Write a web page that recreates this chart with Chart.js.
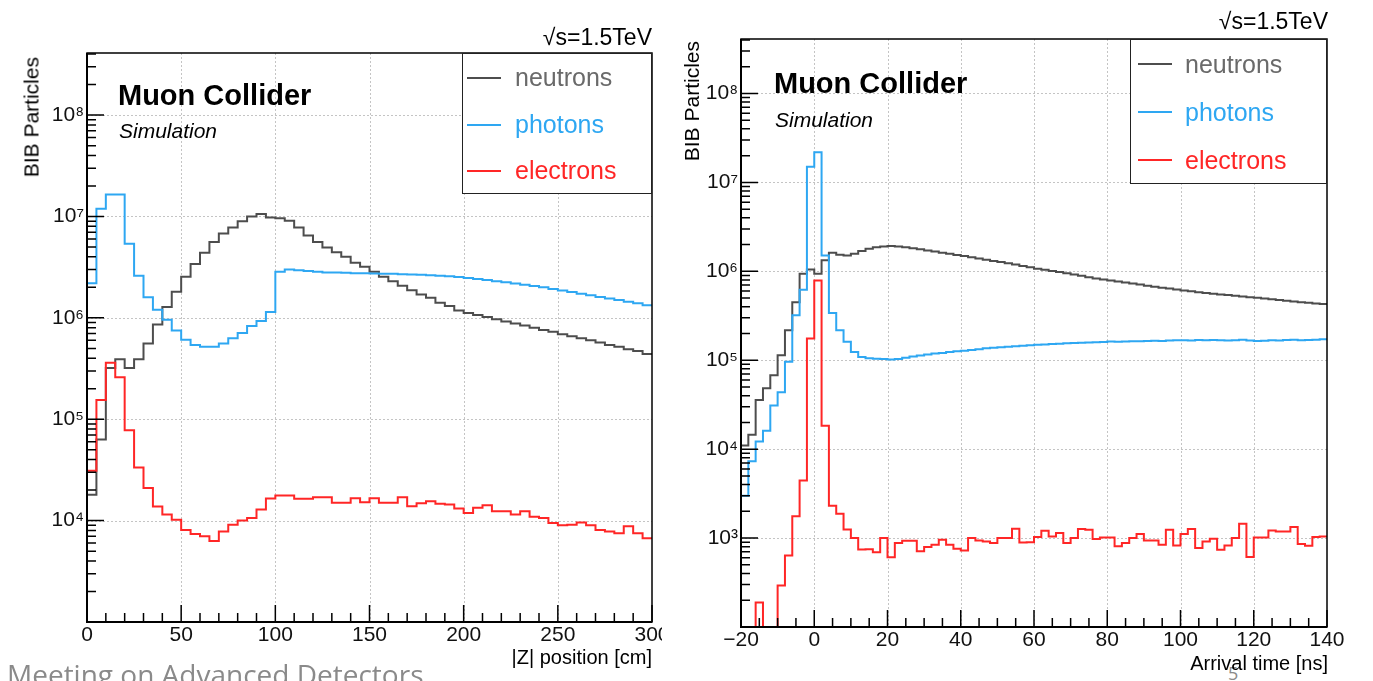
<!DOCTYPE html>
<html>
<head>
<meta charset="utf-8">
<title>BIB particles - Muon Collider</title>
<script src="https://cdn.jsdelivr.net/npm/chart.js@4.4.1/dist/chart.umd.min.js"></script>
<style>
  html, body { margin: 0; padding: 0; background: #fff; }
  #page { position: relative; width: 1373px; height: 681px; overflow: hidden; background: #fff;
          font-family: "Liberation Sans", Arial, Helvetica, sans-serif; }
  canvas { position: absolute; top: 0; }
  .txt { position: absolute; line-height: 1; white-space: nowrap; color: #000; }
  .rot { transform-origin: 0 0; transform: rotate(-90deg) translate(-100%, -50%); }
  .legend { position: absolute; background: #fff; border: 1.5px solid #222; box-sizing: border-box; }
  .legend .sample { position: absolute; height: 2px; }
  .legend .name { position: absolute; font-size: 25px; line-height: 1; white-space: nowrap; }
  .footer { font-family: "Open Sans", "Noto Sans", sans-serif; color: #8a8a8a; }
</style>
</head>
<body>
<div id="page">
  <div class="txt footer" style="left:1228px; top:664px; font-size:18px;">5</div>
  <canvas id="chartZ" width="662" height="681" style="left:0px;"></canvas>
  <canvas id="chartT" width="711" height="681" style="left:662px;"></canvas>

  <!-- left panel texts -->
  <div class="txt" style="right:721px; top:26px; font-size:23px;">√s=1.5TeV</div>
  <div class="txt" style="left:118px; top:81px; font-size:29px; font-weight:bold;">Muon Collider</div>
  <div class="txt" style="left:119px; top:120px; font-size:21px; font-style:italic;">Simulation</div>
  <div class="txt rot" style="left:31px; top:57px; font-size:21px;">BIB Particles</div>
  <div class="txt" style="right:721px; top:647px; font-size:20px;">|Z| position [cm]</div>

  <!-- right panel texts -->
  <div class="txt" style="right:45px; top:10px; font-size:23px;">√s=1.5TeV</div>
  <div class="txt" style="left:774px; top:69px; font-size:29px; font-weight:bold;">Muon Collider</div>
  <div class="txt" style="left:775px; top:109px; font-size:21px; font-style:italic;">Simulation</div>
  <div class="txt rot" style="left:691px; top:41px; font-size:21px;">BIB Particles</div>
  <div class="txt" style="right:45px; top:653px; font-size:20px;">Arrival time [ns]</div>

  <div class="txt footer" style="left:7px; top:660px; font-size:28px;">Meeting on Advanced Detectors</div>
</div>

<script>
// |Z| position, 5 cm bins from 0 to 300 cm
const zStart = 0;
const zBinWidth = 5;
const zTicks = [0, 50, 100, 150, 200, 250, 300];

const neutronsZ = [
  1.8e4, 6.3e4, 3.2e5, 3.9e5, 3.2e5, 3.9e5, 5.6e5, 8.6e5, 1.28e6, 1.81e6,
  2.54e6, 3.39e6, 4.4e6, 5.6e6, 6.8e6, 7.8e6, 9.0e6, 1.0e7, 1.06e7, 9.8e6,
  9.6e6, 9.1e6, 7.8e6, 6.5e6, 5.6e6, 4.95e6, 4.43e6, 4.0e6, 3.5e6, 3.2e6,
  2.85e6, 2.55e6, 2.3e6, 2.07e6, 1.87e6, 1.7e6, 1.58e6, 1.41e6, 1.31e6, 1.18e6,
  1.12e6, 1.07e6, 1.02e6, 9.7e5, 9.2e5, 8.8e5, 8.4e5, 8.0e5, 7.6e5, 7.3e5,
  6.9e5, 6.6e5, 6.3e5, 6.0e5, 5.7e5, 5.4e5, 5.2e5, 4.9e5, 4.7e5, 4.4e5
];
const photonsZ = [
  2.2e6, 1.19e7, 1.65e7, 1.65e7, 5.4e6, 2.6e6, 1.6e6, 1.2e6, 9.6e5, 7.5e5,
  6.1e5, 5.4e5, 5.2e5, 5.2e5, 5.6e5, 6.3e5, 7.1e5, 8.3e5, 9.3e5, 1.14e6,
  2.85e6, 3.0e6, 2.95e6, 2.9e6, 2.85e6, 2.8e6, 2.8e6, 2.78e6, 2.76e6, 2.75e6,
  2.74e6, 2.73e6, 2.72e6, 2.7e6, 2.68e6, 2.66e6, 2.63e6, 2.6e6, 2.57e6, 2.53e6,
  2.48e6, 2.42e6, 2.36e6, 2.3e6, 2.24e6, 2.18e6, 2.12e6, 2.06e6, 2.0e6, 1.93e6,
  1.86e6, 1.8e6, 1.73e6, 1.67e6, 1.61e6, 1.55e6, 1.5e6, 1.44e6, 1.39e6, 1.33e6
];
const electronsZ = [
  3.1e4, 1.55e5, 3.6e5, 2.6e5, 7.8e4, 3.35e4, 2.1e4, 1.38e4, 1.15e4, 1.02e4,
  8.1e3, 7.4e3, 7.0e3, 6.3e3, 7.8e3, 9.1e3, 1.0e4, 1.06e4, 1.29e4, 1.65e4,
  1.77e4, 1.77e4, 1.64e4, 1.64e4, 1.7e4, 1.7e4, 1.5e4, 1.5e4, 1.66e4, 1.52e4,
  1.66e4, 1.5e4, 1.5e4, 1.7e4, 1.39e4, 1.48e4, 1.55e4, 1.47e4, 1.44e4, 1.32e4,
  1.19e4, 1.34e4, 1.42e4, 1.24e4, 1.24e4, 1.15e4, 1.24e4, 1.09e4, 1.06e4, 9.5e3,
  9.0e3, 9.1e3, 9.6e3, 9.0e3, 8.1e3, 7.8e3, 7.5e3, 8.8e3, 7.5e3, 6.7e3
];

// arrival time, 2 ns bins from -20 to 140 ns
const tStart = -20;
const tBinWidth = 2;
const tTicks = [-20, 0, 20, 40, 60, 80, 100, 120, 140];

const neutronsT = [
  1.1e4, 1.45e4, 3.57e4, 4.83e4, 6.8e4, 1.14e5, 2.18e5, 4.5e5, 9.4e5, 1.05e6,
  9.4e5, 1.33e6, 1.62e6, 1.54e6, 1.51e6, 1.58e6, 1.69e6, 1.8e6, 1.87e6, 1.9e6,
  1.93e6, 1.9e6, 1.86e6, 1.82e6, 1.77e6, 1.72e6, 1.67e6, 1.62e6, 1.58e6, 1.53e6,
  1.49e6, 1.44e6, 1.39e6, 1.35e6, 1.31e6, 1.27e6, 1.23e6, 1.19e6, 1.15e6, 1.11e6,
  1.07e6, 1.04e6, 1.01e6, 9.8e5, 9.5e5, 9.2e5, 8.9e5, 8.6e5, 8.3e5, 8.1e5,
  7.9e5, 7.7e5, 7.5e5, 7.3e5, 7.1e5, 6.9e5, 6.7e5, 6.55e5, 6.4e5, 6.25e5,
  6.1e5, 5.95e5, 5.8e5, 5.7e5, 5.6e5, 5.5e5, 5.4e5, 5.3e5, 5.2e5, 5.1e5,
  5.05e5, 4.95e5, 4.85e5, 4.76e5, 4.67e5, 4.58e5, 4.5e5, 4.42e5, 4.35e5, 4.28e5
];
const photonsT = [
  3.0e3, 7.3e3, 1.22e4, 1.61e4, 3.09e4, 4.36e4, 9.6e4, 3.2e5, 6.2e5, 1.5e7,
  2.18e7, 1.51e6, 3.4e5, 2.18e5, 1.61e5, 1.24e5, 1.09e5, 1.05e5, 1.04e5, 1.03e5,
  1.02e5, 1.03e5, 1.07e5, 1.1e5, 1.13e5, 1.16e5, 1.19e5, 1.21e5, 1.24e5, 1.26e5,
  1.28e5, 1.3e5, 1.33e5, 1.36e5, 1.38e5, 1.4e5, 1.42e5, 1.44e5, 1.46e5, 1.47e5,
  1.49e5, 1.5e5, 1.52e5, 1.53e5, 1.55e5, 1.56e5, 1.57e5, 1.58e5, 1.59e5, 1.6e5,
  1.62e5, 1.61e5, 1.63e5, 1.64e5, 1.64e5, 1.65e5, 1.66e5, 1.65e5, 1.67e5, 1.68e5,
  1.68e5, 1.67e5, 1.69e5, 1.68e5, 1.69e5, 1.68e5, 1.67e5, 1.68e5, 1.7e5, 1.67e5,
  1.65e5, 1.66e5, 1.68e5, 1.67e5, 1.69e5, 1.7e5, 1.68e5, 1.69e5, 1.7e5, 1.72e5
];
const electronsT = [
  0, 0, 188, 0, 0, 293, 636, 1760, 4450, 1.76e5,
  7.9e5, 1.83e4, 2310, 1880, 1245, 1000, 743, 750, 693, 1000,
  607, 880, 934, 934, 709, 793, 842, 958, 842, 760,
  727, 1000, 942, 918, 880, 1000, 1000, 1270, 894, 900,
  1026, 1208, 1044, 1140, 880, 1000, 1262, 1240, 975, 1017,
  1017, 807, 880, 1000, 1110, 942, 942, 842, 1240, 827,
  1110, 1262, 772, 918, 983, 740, 827, 1000, 1448, 612,
  1017, 1017, 1220, 1188, 1188, 1330, 856, 820, 1026, 1044
];

const seriesNames = ["neutrons", "photons", "electrons"];
const lineColors = ["#4d4d4d", "#2ea7f2", "#ff2626"];
const textColors = ["#6a6a6a", "#2ea7f2", "#ff2626"];

Chart.defaults.font.family = "'Liberation Sans', Arial, Helvetica, sans-serif";

const supDigits = { "0": "⁰", "1": "¹", "2": "²", "3": "³", "4": "⁴", "5": "⁵", "6": "⁶", "7": "⁷", "8": "⁸", "9": "⁹" };
const powerLabel = (v) => "10" + String(Math.round(Math.log10(v))).split("").map(d => supDigits[d]).join("");

// empty bins are drawn on the floor of the frame, like ROOT does on a log axis
function histPoints(start, width, counts, floor) {
  const pts = counts.map((c, i) => ({ x: start + i * width, y: c > 0 ? c : floor }));
  pts.push({ x: start + counts.length * width, y: pts[pts.length - 1].y });
  return pts;
}

// dotted grid under the histograms, frame and inward ticks on top
const rootFrame = {
  id: "rootFrame",
  beforeDatasetsDraw(chart, args, opts) {
    const { ctx, chartArea: a, scales: { x, y } } = chart;
    ctx.save();
    ctx.strokeStyle = "#c4c4c4";
    ctx.lineWidth = 1;
    ctx.setLineDash([2, 2]);
    ctx.beginPath();
    for (const v of opts.xTicks) {
      if (v <= x.min || v >= x.max) continue;
      const px = Math.round(x.getPixelForValue(v)) + 0.5;
      ctx.moveTo(px, a.top);
      ctx.lineTo(px, a.bottom);
    }
    for (let e = Math.ceil(Math.log10(y.min)); Math.pow(10, e) < y.max; e++) {
      const v = Math.pow(10, e);
      if (v <= y.min) continue;
      const py = Math.round(y.getPixelForValue(v)) + 0.5;
      ctx.moveTo(a.left, py);
      ctx.lineTo(a.right, py);
    }
    ctx.stroke();
    ctx.restore();
  },
  afterDatasetsDraw(chart, args, opts) {
    const { ctx, chartArea: a, scales: { x, y } } = chart;
    ctx.save();
    ctx.strokeStyle = "#000";
    ctx.lineWidth = 1.5;
    ctx.strokeRect(a.left, a.top, a.right - a.left, a.bottom - a.top);
    ctx.beginPath();
    for (let e = Math.floor(Math.log10(y.min)); e <= Math.ceil(Math.log10(y.max)); e++) {
      for (let m = 1; m <= 9; m++) {
        const v = m * Math.pow(10, e);
        if (v < y.min * 0.999 || v > y.max) continue;
        const py = y.getPixelForValue(v);
        ctx.moveTo(a.left, py);
        ctx.lineTo(a.left + (m === 1 ? 17 : 9), py);
      }
    }
    for (let v = x.min; v <= x.max + 1e-9; v += opts.xMinor) {
      const px = x.getPixelForValue(v);
      ctx.moveTo(px, a.bottom);
      ctx.lineTo(px, a.bottom - (opts.xTicks.includes(v) ? 17 : 9));
    }
    ctx.stroke();
    ctx.lineWidth = 2;
    ctx.beginPath();
    ctx.moveTo(a.left, a.top);
    ctx.lineTo(a.left, a.bottom);
    ctx.lineTo(a.right, a.bottom);
    ctx.stroke();
    ctx.restore();
  }
};

function makePanel(canvasId, p) {
  const floor = p.yMin;
  const decades = [];
  for (let e = Math.round(Math.log10(p.yMin)); Math.pow(10, e) <= p.yMax; e++) decades.push(Math.pow(10, e));

  const datasets = p.series.map((counts, i) => ({
    label: seriesNames[i],
    data: histPoints(p.start, p.binWidth, counts, floor),
    borderColor: lineColors[i],
    borderWidth: 2,
    pointRadius: 0,
    stepped: "before",
    fill: false,
    order: 3 - i
  }));

  return new Chart(document.getElementById(canvasId), {
    type: "line",
    data: { datasets },
    plugins: [rootFrame],
    options: {
      responsive: false,
      animation: false,
      devicePixelRatio: 1,
      layout: { padding: { left: 0, top: p.top, right: p.right, bottom: 0 } },
      plugins: {
        legend: { display: false },
        tooltip: { enabled: false },
        rootFrame: { xTicks: p.xTicks, xMinor: p.xMinor }
      },
      scales: {
        x: {
          type: "linear",
          min: p.xTicks[0],
          max: p.xTicks[p.xTicks.length - 1],
          afterBuildTicks: s => { s.ticks = p.xTicks.map(v => ({ value: v })); },
          afterFit: s => { s.height = p.xHeight; s.paddingLeft = 0; s.paddingRight = 0; },
          ticks: {
            autoSkip: false, maxRotation: 0, padding: 1, color: "#111",
            font: { size: 21 },
            callback: v => (v < 0 ? "\u2212" + Math.abs(v) : String(v))
          },
          grid: { display: false, drawTicks: false },
          border: { display: false }
        },
        y: {
          type: "logarithmic",
          min: p.yMin,
          max: p.yMax,
          afterBuildTicks: s => { s.ticks = decades.map(v => ({ value: v })); },
          afterFit: s => { s.width = p.yWidth; s.paddingTop = 0; s.paddingBottom = 0; },
          ticks: {
            autoSkip: false, padding: 3, color: "#111",
            font: { size: 21 },
            callback: v => (v <= p.yMin ? "" : powerLabel(v))
          },
          grid: { display: false, drawTicks: false },
          border: { display: false }
        }
      }
    }
  });
}

function makeLegend(box) {
  const el = document.createElement("div");
  el.className = "legend";
  Object.assign(el.style, { left: box.left + "px", top: box.top + "px", width: box.width + "px", height: box.height + "px" });
  seriesNames.forEach((name, i) => {
    const line = document.createElement("div");
    line.className = "sample";
    Object.assign(line.style, {
      left: box.lineX + "px", width: box.lineW + "px",
      top: (box.lineY + i * box.step - 1) + "px", background: lineColors[i]
    });
    const txt = document.createElement("div");
    txt.className = "name";
    txt.textContent = name;
    Object.assign(txt.style, { left: box.textX + "px", top: (box.textY + i * box.step) + "px", color: textColors[i] });
    el.appendChild(line);
    el.appendChild(txt);
  });
  document.getElementById("page").appendChild(el);
}

makePanel("chartZ", {
  series: [neutronsZ, photonsZ, electronsZ],
  start: zStart, binWidth: zBinWidth,
  xTicks: zTicks, xMinor: 10,
  yMin: 1e3, yMax: 4.1e8,
  top: 53, right: 10, yWidth: 87, xHeight: 59
});
makePanel("chartT", {
  series: [neutronsT, photonsT, electronsT],
  start: tStart, binWidth: tBinWidth,
  xTicks: tTicks, xMinor: 5,
  yMin: 1e2, yMax: 4.1e8,
  top: 39, right: 46, yWidth: 79, xHeight: 54
});

makeLegend({ left: 462, top: 53, width: 190, height: 141, lineX: 4, lineW: 34, lineY: 24, textX: 52, textY: 11, step: 46.5 });
makeLegend({ left: 1130, top: 39, width: 197, height: 145, lineX: 7, lineW: 34, lineY: 24, textX: 54, textY: 12, step: 48 });
</script>
</body>
</html>
